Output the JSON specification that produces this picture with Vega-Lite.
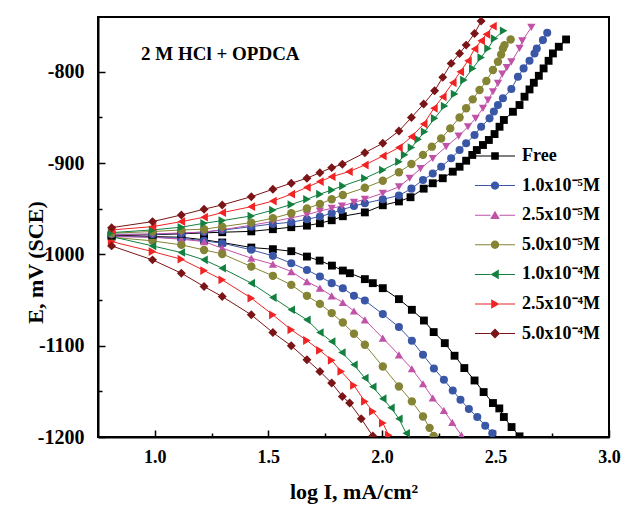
{
"$schema": "https://vega.github.io/schema/vega-lite/v6.json",
"width": 511, "height": 420,
"autosize": "none",
"padding": {"left": 98, "top": 17, "right": 23, "bottom": 72},
"background": "white",
"config": {"view": {"stroke": "black", "strokeWidth": 2}, "font": "Liberation Serif"},
"title": {"text": "2 M HCl + OPDCA", "anchor": "start", "frame": "group", "dx": 43, "dy": 66, "baseline": "alphabetic", "fontSize": 19, "fontWeight": "bold", "font": "Liberation Serif", "color": "black"},
"datasets": {"tafel": [
{"series":"Free","branch":"a","logI":0.81,"E":-979.4},{"series":"Free","branch":"a","logI":0.99,"E":-978.5},{"series":"Free","branch":"a","logI":1.117,"E":-977.5},{"series":"Free","branch":"a","logI":1.217,"E":-976.5},{"series":"Free","branch":"a","logI":1.297,"E":-975.7},{"series":"Free","branch":"a","logI":1.425,"E":-974.8},{"series":"Free","branch":"a","logI":1.52,"E":-972.4},{"series":"Free","branch":"a","logI":1.601,"E":-970.2},{"series":"Free","branch":"a","logI":1.67,"E":-968.5},{"series":"Free","branch":"a","logI":1.727,"E":-965.9},{"series":"Free","branch":"a","logI":1.779,"E":-962.6},{"series":"Free","branch":"a","logI":1.828,"E":-958.2},{"series":"Free","branch":"a","logI":1.925,"E":-954.0},{"series":"Free","branch":"a","logI":2.004,"E":-946.2},{"series":"Free","branch":"a","logI":2.075,"E":-942.0},{"series":"Free","branch":"a","logI":2.126,"E":-937.4},{"series":"Free","branch":"a","logI":2.184,"E":-928.0},{"series":"Free","branch":"a","logI":2.224,"E":-922.1},{"series":"Free","branch":"a","logI":2.268,"E":-916.6},{"series":"Free","branch":"a","logI":2.312,"E":-909.4},{"series":"Free","branch":"a","logI":2.342,"E":-904.0},{"series":"Free","branch":"a","logI":2.371,"E":-897.4},{"series":"Free","branch":"a","logI":2.398,"E":-891.1},{"series":"Free","branch":"a","logI":2.418,"E":-885.7},{"series":"Free","branch":"a","logI":2.445,"E":-880.2},{"series":"Free","branch":"a","logI":2.471,"E":-874.7},{"series":"Free","branch":"a","logI":2.496,"E":-868.2},{"series":"Free","branch":"a","logI":2.518,"E":-860.2},{"series":"Free","branch":"a","logI":2.537,"E":-852.8},{"series":"Free","branch":"a","logI":2.577,"E":-843.8},{"series":"Free","branch":"a","logI":2.606,"E":-836.4},{"series":"Free","branch":"a","logI":2.628,"E":-827.3},{"series":"Free","branch":"a","logI":2.65,"E":-819.3},{"series":"Free","branch":"a","logI":2.669,"E":-812.0},{"series":"Free","branch":"a","logI":2.691,"E":-804.4},{"series":"Free","branch":"a","logI":2.712,"E":-796.3},{"series":"Free","branch":"a","logI":2.734,"E":-788.0},{"series":"Free","branch":"a","logI":2.753,"E":-779.9},{"series":"Free","branch":"a","logI":2.779,"E":-772.6},{"series":"Free","branch":"a","logI":2.811,"E":-764.6},
{"series":"Free","branch":"c","logI":0.81,"E":-979.5},{"series":"Free","branch":"c","logI":0.99,"E":-980.5},{"series":"Free","branch":"c","logI":1.117,"E":-981.2},{"series":"Free","branch":"c","logI":1.217,"E":-984.0},{"series":"Free","branch":"c","logI":1.297,"E":-987.0},{"series":"Free","branch":"c","logI":1.425,"E":-992.5},{"series":"Free","branch":"c","logI":1.52,"E":-994.3},{"series":"Free","branch":"c","logI":1.601,"E":-996.5},{"series":"Free","branch":"c","logI":1.67,"E":-1002.4},{"series":"Free","branch":"c","logI":1.726,"E":-1006.8},{"series":"Free","branch":"c","logI":1.78,"E":-1012.3},{"series":"Free","branch":"c","logI":1.828,"E":-1017.7},{"series":"Free","branch":"c","logI":1.859,"E":-1020.6},{"series":"Free","branch":"c","logI":1.925,"E":-1027.1},{"series":"Free","branch":"c","logI":1.96,"E":-1031.5},{"series":"Free","branch":"c","logI":2.004,"E":-1037.0},{"series":"Free","branch":"c","logI":2.075,"E":-1049.0},{"series":"Free","branch":"c","logI":2.132,"E":-1060.7},{"series":"Free","branch":"c","logI":2.185,"E":-1072.4},{"series":"Free","branch":"c","logI":2.228,"E":-1085.1},{"series":"Free","branch":"c","logI":2.277,"E":-1097.2},{"series":"Free","branch":"c","logI":2.32,"E":-1111.0},{"series":"Free","branch":"c","logI":2.363,"E":-1124.5},{"series":"Free","branch":"c","logI":2.408,"E":-1138.1},{"series":"Free","branch":"c","logI":2.448,"E":-1150.8},{"series":"Free","branch":"c","logI":2.489,"E":-1162.8},{"series":"Free","branch":"c","logI":2.517,"E":-1168.7},{"series":"Free","branch":"c","logI":2.537,"E":-1178.1},{"series":"Free","branch":"c","logI":2.571,"E":-1189.1},{"series":"Free","branch":"c","logI":2.606,"E":-1199.3},
{"series":"1.0x10⁻⁵M","branch":"a","logI":0.81,"E":-977.9},{"series":"1.0x10⁻⁵M","branch":"a","logI":0.99,"E":-978.0},{"series":"1.0x10⁻⁵M","branch":"a","logI":1.117,"E":-977.0},{"series":"1.0x10⁻⁵M","branch":"a","logI":1.217,"E":-975.5},{"series":"1.0x10⁻⁵M","branch":"a","logI":1.297,"E":-973.5},{"series":"1.0x10⁻⁵M","branch":"a","logI":1.425,"E":-969.6},{"series":"1.0x10⁻⁵M","branch":"a","logI":1.52,"E":-966.6},{"series":"1.0x10⁻⁵M","branch":"a","logI":1.601,"E":-964.8},{"series":"1.0x10⁻⁵M","branch":"a","logI":1.67,"E":-961.5},{"series":"1.0x10⁻⁵M","branch":"a","logI":1.727,"E":-958.6},{"series":"1.0x10⁻⁵M","branch":"a","logI":1.779,"E":-955.0},{"series":"1.0x10⁻⁵M","branch":"a","logI":1.821,"E":-951.3},{"series":"1.0x10⁻⁵M","branch":"a","logI":1.877,"E":-947.0},{"series":"1.0x10⁻⁵M","branch":"a","logI":1.925,"E":-944.0},{"series":"1.0x10⁻⁵M","branch":"a","logI":2.004,"E":-939.6},{"series":"1.0x10⁻⁵M","branch":"a","logI":2.075,"E":-935.5},{"series":"1.0x10⁻⁵M","branch":"a","logI":2.13,"E":-928.0},{"series":"1.0x10⁻⁵M","branch":"a","logI":2.181,"E":-918.5},{"series":"1.0x10⁻⁵M","branch":"a","logI":2.224,"E":-911.5},{"series":"1.0x10⁻⁵M","branch":"a","logI":2.261,"E":-904.0},{"series":"1.0x10⁻⁵M","branch":"a","logI":2.305,"E":-894.8},{"series":"1.0x10⁻⁵M","branch":"a","logI":2.342,"E":-885.7},{"series":"1.0x10⁻⁵M","branch":"a","logI":2.371,"E":-878.3},{"series":"1.0x10⁻⁵M","branch":"a","logI":2.408,"E":-869.3},{"series":"1.0x10⁻⁵M","branch":"a","logI":2.437,"E":-860.2},{"series":"1.0x10⁻⁵M","branch":"a","logI":2.474,"E":-851.0},{"series":"1.0x10⁻⁵M","branch":"a","logI":2.493,"E":-843.5},{"series":"1.0x10⁻⁵M","branch":"a","logI":2.511,"E":-836.4},{"series":"1.0x10⁻⁵M","branch":"a","logI":2.533,"E":-829.0},{"series":"1.0x10⁻⁵M","branch":"a","logI":2.57,"E":-818.9},{"series":"1.0x10⁻⁵M","branch":"a","logI":2.599,"E":-805.5},{"series":"1.0x10⁻⁵M","branch":"a","logI":2.624,"E":-796.3},{"series":"1.0x10⁻⁵M","branch":"a","logI":2.65,"E":-788.0},{"series":"1.0x10⁻⁵M","branch":"a","logI":2.672,"E":-779.9},{"series":"1.0x10⁻⁵M","branch":"a","logI":2.682,"E":-774.4},{"series":"1.0x10⁻⁵M","branch":"a","logI":2.709,"E":-765.3},{"series":"1.0x10⁻⁵M","branch":"a","logI":2.728,"E":-757.3},
{"series":"1.0x10⁻⁵M","branch":"c","logI":0.81,"E":-979.8},{"series":"1.0x10⁻⁵M","branch":"c","logI":0.99,"E":-981.2},{"series":"1.0x10⁻⁵M","branch":"c","logI":1.117,"E":-982.3},{"series":"1.0x10⁻⁵M","branch":"c","logI":1.217,"E":-985.2},{"series":"1.0x10⁻⁵M","branch":"c","logI":1.297,"E":-987.7},{"series":"1.0x10⁻⁵M","branch":"c","logI":1.425,"E":-995.0},{"series":"1.0x10⁻⁵M","branch":"c","logI":1.52,"E":-1001.6},{"series":"1.0x10⁻⁵M","branch":"c","logI":1.601,"E":-1009.6},{"series":"1.0x10⁻⁵M","branch":"c","logI":1.67,"E":-1017.0},{"series":"1.0x10⁻⁵M","branch":"c","logI":1.727,"E":-1024.3},{"series":"1.0x10⁻⁵M","branch":"c","logI":1.779,"E":-1031.5},{"series":"1.0x10⁻⁵M","branch":"c","logI":1.828,"E":-1037.0},{"series":"1.0x10⁻⁵M","branch":"c","logI":1.877,"E":-1045.4},{"series":"1.0x10⁻⁵M","branch":"c","logI":1.925,"E":-1050.5},{"series":"1.0x10⁻⁵M","branch":"c","logI":2.004,"E":-1065.4},{"series":"1.0x10⁻⁵M","branch":"c","logI":2.075,"E":-1079.6},{"series":"1.0x10⁻⁵M","branch":"c","logI":2.132,"E":-1094.6},{"series":"1.0x10⁻⁵M","branch":"c","logI":2.181,"E":-1110.0},{"series":"1.0x10⁻⁵M","branch":"c","logI":2.229,"E":-1124.9},{"series":"1.0x10⁻⁵M","branch":"c","logI":2.273,"E":-1137.3},{"series":"1.0x10⁻⁵M","branch":"c","logI":2.312,"E":-1149.0},{"series":"1.0x10⁻⁵M","branch":"c","logI":2.346,"E":-1159.2},{"series":"1.0x10⁻⁵M","branch":"c","logI":2.383,"E":-1169.4},{"series":"1.0x10⁻⁵M","branch":"c","logI":2.42,"E":-1178.1},{"series":"1.0x10⁻⁵M","branch":"c","logI":2.455,"E":-1187.6},{"series":"1.0x10⁻⁵M","branch":"c","logI":2.486,"E":-1196.0},
{"series":"2.5x10⁻⁵M","branch":"a","logI":0.81,"E":-978.7},{"series":"2.5x10⁻⁵M","branch":"a","logI":0.99,"E":-977.6},{"series":"2.5x10⁻⁵M","branch":"a","logI":1.117,"E":-976.5},{"series":"2.5x10⁻⁵M","branch":"a","logI":1.217,"E":-975.5},{"series":"2.5x10⁻⁵M","branch":"a","logI":1.297,"E":-973.0},{"series":"2.5x10⁻⁵M","branch":"a","logI":1.425,"E":-968.0},{"series":"2.5x10⁻⁵M","branch":"a","logI":1.52,"E":-964.0},{"series":"2.5x10⁻⁵M","branch":"a","logI":1.601,"E":-960.0},{"series":"2.5x10⁻⁵M","branch":"a","logI":1.67,"E":-956.5},{"series":"2.5x10⁻⁵M","branch":"a","logI":1.727,"E":-952.5},{"series":"2.5x10⁻⁵M","branch":"a","logI":1.779,"E":-949.5},{"series":"2.5x10⁻⁵M","branch":"a","logI":1.824,"E":-947.0},{"series":"2.5x10⁻⁵M","branch":"a","logI":1.877,"E":-943.0},{"series":"2.5x10⁻⁵M","branch":"a","logI":1.925,"E":-939.6},{"series":"2.5x10⁻⁵M","branch":"a","logI":2.004,"E":-933.0},{"series":"2.5x10⁻⁵M","branch":"a","logI":2.075,"E":-926.0},{"series":"2.5x10⁻⁵M","branch":"a","logI":2.122,"E":-916.6},{"series":"2.5x10⁻⁵M","branch":"a","logI":2.17,"E":-906.0},{"series":"2.5x10⁻⁵M","branch":"a","logI":2.224,"E":-895.0},{"series":"2.5x10⁻⁵M","branch":"a","logI":2.283,"E":-882.0},{"series":"2.5x10⁻⁵M","branch":"a","logI":2.338,"E":-870.4},{"series":"2.5x10⁻⁵M","branch":"a","logI":2.379,"E":-860.2},{"series":"2.5x10⁻⁵M","branch":"a","logI":2.413,"E":-851.0},{"series":"2.5x10⁻⁵M","branch":"a","logI":2.445,"E":-840.0},{"series":"2.5x10⁻⁵M","branch":"a","logI":2.467,"E":-831.0},{"series":"2.5x10⁻⁵M","branch":"a","logI":2.489,"E":-821.9},{"series":"2.5x10⁻⁵M","branch":"a","logI":2.511,"E":-812.7},{"series":"2.5x10⁻⁵M","branch":"a","logI":2.53,"E":-802.5},{"series":"2.5x10⁻⁵M","branch":"a","logI":2.55,"E":-795.5},{"series":"2.5x10⁻⁵M","branch":"a","logI":2.57,"E":-789.1},{"series":"2.5x10⁻⁵M","branch":"a","logI":2.606,"E":-774.4},{"series":"2.5x10⁻⁵M","branch":"a","logI":2.618,"E":-766.1},{"series":"2.5x10⁻⁵M","branch":"a","logI":2.658,"E":-751.4},
{"series":"2.5x10⁻⁵M","branch":"c","logI":0.81,"E":-980.5},{"series":"2.5x10⁻⁵M","branch":"c","logI":0.99,"E":-981.2},{"series":"2.5x10⁻⁵M","branch":"c","logI":1.117,"E":-983.4},{"series":"2.5x10⁻⁵M","branch":"c","logI":1.217,"E":-986.0},{"series":"2.5x10⁻⁵M","branch":"c","logI":1.297,"E":-993.2},{"series":"2.5x10⁻⁵M","branch":"c","logI":1.425,"E":-1004.2},{"series":"2.5x10⁻⁵M","branch":"c","logI":1.52,"E":-1010.7},{"series":"2.5x10⁻⁵M","branch":"c","logI":1.601,"E":-1018.8},{"series":"2.5x10⁻⁵M","branch":"c","logI":1.67,"E":-1029.8},{"series":"2.5x10⁻⁵M","branch":"c","logI":1.727,"E":-1037.0},{"series":"2.5x10⁻⁵M","branch":"c","logI":1.779,"E":-1045.4},{"series":"2.5x10⁻⁵M","branch":"c","logI":1.828,"E":-1052.7},{"series":"2.5x10⁻⁵M","branch":"c","logI":1.877,"E":-1062.0},{"series":"2.5x10⁻⁵M","branch":"c","logI":1.925,"E":-1071.7},{"series":"2.5x10⁻⁵M","branch":"c","logI":2.004,"E":-1091.7},{"series":"2.5x10⁻⁵M","branch":"c","logI":2.075,"E":-1110.0},{"series":"2.5x10⁻⁵M","branch":"c","logI":2.132,"E":-1125.3},{"series":"2.5x10⁻⁵M","branch":"c","logI":2.181,"E":-1141.7},{"series":"2.5x10⁻⁵M","branch":"c","logI":2.224,"E":-1157.3},{"series":"2.5x10⁻⁵M","branch":"c","logI":2.273,"E":-1171.0},{"series":"2.5x10⁻⁵M","branch":"c","logI":2.31,"E":-1184.0},{"series":"2.5x10⁻⁵M","branch":"c","logI":2.35,"E":-1198.0},
{"series":"5.0x10⁻⁵M","branch":"a","logI":0.81,"E":-976.8},{"series":"5.0x10⁻⁵M","branch":"a","logI":0.99,"E":-975.0},{"series":"5.0x10⁻⁵M","branch":"a","logI":1.117,"E":-973.2},{"series":"5.0x10⁻⁵M","branch":"a","logI":1.217,"E":-972.4},{"series":"5.0x10⁻⁵M","branch":"a","logI":1.297,"E":-969.6},{"series":"5.0x10⁻⁵M","branch":"a","logI":1.425,"E":-965.2},{"series":"5.0x10⁻⁵M","branch":"a","logI":1.52,"E":-960.4},{"series":"5.0x10⁻⁵M","branch":"a","logI":1.601,"E":-954.9},{"series":"5.0x10⁻⁵M","branch":"a","logI":1.67,"E":-949.8},{"series":"5.0x10⁻⁵M","branch":"a","logI":1.727,"E":-944.7},{"series":"5.0x10⁻⁵M","branch":"a","logI":1.779,"E":-939.6},{"series":"5.0x10⁻⁵M","branch":"a","logI":1.828,"E":-935.0},{"series":"5.0x10⁻⁵M","branch":"a","logI":1.925,"E":-927.0},{"series":"5.0x10⁻⁵M","branch":"a","logI":2.004,"E":-919.3},{"series":"5.0x10⁻⁵M","branch":"a","logI":2.075,"E":-910.0},{"series":"5.0x10⁻⁵M","branch":"a","logI":2.13,"E":-901.0},{"series":"5.0x10⁻⁵M","branch":"a","logI":2.181,"E":-891.0},{"series":"5.0x10⁻⁵M","branch":"a","logI":2.22,"E":-882.0},{"series":"5.0x10⁻⁵M","branch":"a","logI":2.261,"E":-873.0},{"series":"5.0x10⁻⁵M","branch":"a","logI":2.301,"E":-862.0},{"series":"5.0x10⁻⁵M","branch":"a","logI":2.342,"E":-850.0},{"series":"5.0x10⁻⁵M","branch":"a","logI":2.371,"E":-840.0},{"series":"5.0x10⁻⁵M","branch":"a","logI":2.4,"E":-830.2},{"series":"5.0x10⁻⁵M","branch":"a","logI":2.43,"E":-820.0},{"series":"5.0x10⁻⁵M","branch":"a","logI":2.46,"E":-810.0},{"series":"5.0x10⁻⁵M","branch":"a","logI":2.489,"E":-798.1},{"series":"5.0x10⁻⁵M","branch":"a","logI":2.511,"E":-789.1},{"series":"5.0x10⁻⁵M","branch":"a","logI":2.525,"E":-781.0},{"series":"5.0x10⁻⁵M","branch":"a","logI":2.533,"E":-774.4},{"series":"5.0x10⁻⁵M","branch":"a","logI":2.54,"E":-770.8},{"series":"5.0x10⁻⁵M","branch":"a","logI":2.567,"E":-764.6},
{"series":"5.0x10⁻⁵M","branch":"c","logI":0.81,"E":-981.2},{"series":"5.0x10⁻⁵M","branch":"c","logI":0.99,"E":-985.2},{"series":"5.0x10⁻⁵M","branch":"c","logI":1.117,"E":-989.6},{"series":"5.0x10⁻⁵M","branch":"c","logI":1.217,"E":-995.1},{"series":"5.0x10⁻⁵M","branch":"c","logI":1.297,"E":-999.5},{"series":"5.0x10⁻⁵M","branch":"c","logI":1.425,"E":-1013.3},{"series":"5.0x10⁻⁵M","branch":"c","logI":1.52,"E":-1023.5},{"series":"5.0x10⁻⁵M","branch":"c","logI":1.601,"E":-1033.4},{"series":"5.0x10⁻⁵M","branch":"c","logI":1.67,"E":-1045.4},{"series":"5.0x10⁻⁵M","branch":"c","logI":1.727,"E":-1054.2},{"series":"5.0x10⁻⁵M","branch":"c","logI":1.779,"E":-1064.3},{"series":"5.0x10⁻⁵M","branch":"c","logI":1.828,"E":-1074.6},{"series":"5.0x10⁻⁵M","branch":"c","logI":1.877,"E":-1087.0},{"series":"5.0x10⁻⁵M","branch":"c","logI":1.925,"E":-1099.0},{"series":"5.0x10⁻⁵M","branch":"c","logI":2.004,"E":-1122.8},{"series":"5.0x10⁻⁵M","branch":"c","logI":2.075,"E":-1144.6},{"series":"5.0x10⁻⁵M","branch":"c","logI":2.132,"E":-1161.0},{"series":"5.0x10⁻⁵M","branch":"c","logI":2.181,"E":-1177.5},{"series":"5.0x10⁻⁵M","branch":"c","logI":2.21,"E":-1190.0},{"series":"5.0x10⁻⁵M","branch":"c","logI":2.228,"E":-1199.0},
{"series":"1.0x10⁻⁴M","branch":"a","logI":0.81,"E":-976.1},{"series":"1.0x10⁻⁴M","branch":"a","logI":0.99,"E":-973.2},{"series":"1.0x10⁻⁴M","branch":"a","logI":1.117,"E":-970.2},{"series":"1.0x10⁻⁴M","branch":"a","logI":1.217,"E":-965.9},{"series":"1.0x10⁻⁴M","branch":"a","logI":1.297,"E":-963.0},{"series":"1.0x10⁻⁴M","branch":"a","logI":1.425,"E":-957.9},{"series":"1.0x10⁻⁴M","branch":"a","logI":1.52,"E":-951.5},{"series":"1.0x10⁻⁴M","branch":"a","logI":1.601,"E":-945.3},{"series":"1.0x10⁻⁴M","branch":"a","logI":1.67,"E":-939.6},{"series":"1.0x10⁻⁴M","branch":"a","logI":1.727,"E":-934.0},{"series":"1.0x10⁻⁴M","branch":"a","logI":1.78,"E":-929.4},{"series":"1.0x10⁻⁴M","branch":"a","logI":1.828,"E":-925.0},{"series":"1.0x10⁻⁴M","branch":"a","logI":1.925,"E":-916.6},{"series":"1.0x10⁻⁴M","branch":"a","logI":2.004,"E":-907.5},{"series":"1.0x10⁻⁴M","branch":"a","logI":2.075,"E":-898.5},{"series":"1.0x10⁻⁴M","branch":"a","logI":2.1,"E":-891.0},{"series":"1.0x10⁻⁴M","branch":"a","logI":2.13,"E":-883.0},{"series":"1.0x10⁻⁴M","branch":"a","logI":2.16,"E":-874.0},{"series":"1.0x10⁻⁴M","branch":"a","logI":2.188,"E":-865.6},{"series":"1.0x10⁻⁴M","branch":"a","logI":2.232,"E":-851.0},{"series":"1.0x10⁻⁴M","branch":"a","logI":2.276,"E":-837.5},{"series":"1.0x10⁻⁴M","branch":"a","logI":2.32,"E":-824.4},{"series":"1.0x10⁻⁴M","branch":"a","logI":2.361,"E":-809.1},{"series":"1.0x10⁻⁴M","branch":"a","logI":2.4,"E":-796.3},{"series":"1.0x10⁻⁴M","branch":"a","logI":2.437,"E":-784.3},{"series":"1.0x10⁻⁴M","branch":"a","logI":2.467,"E":-774.4},{"series":"1.0x10⁻⁴M","branch":"a","logI":2.496,"E":-763.5},{"series":"1.0x10⁻⁴M","branch":"a","logI":2.536,"E":-755.0},
{"series":"1.0x10⁻⁴M","branch":"c","logI":0.81,"E":-980.5},{"series":"1.0x10⁻⁴M","branch":"c","logI":0.99,"E":-990.7},{"series":"1.0x10⁻⁴M","branch":"c","logI":1.117,"E":-998.0},{"series":"1.0x10⁻⁴M","branch":"c","logI":1.217,"E":-1006.0},{"series":"1.0x10⁻⁴M","branch":"c","logI":1.297,"E":-1015.1},{"series":"1.0x10⁻⁴M","branch":"c","logI":1.425,"E":-1031.5},{"series":"1.0x10⁻⁴M","branch":"c","logI":1.52,"E":-1047.3},{"series":"1.0x10⁻⁴M","branch":"c","logI":1.601,"E":-1060.7},{"series":"1.0x10⁻⁴M","branch":"c","logI":1.67,"E":-1071.7},{"series":"1.0x10⁻⁴M","branch":"c","logI":1.727,"E":-1085.5},{"series":"1.0x10⁻⁴M","branch":"c","logI":1.779,"E":-1095.4},{"series":"1.0x10⁻⁴M","branch":"c","logI":1.824,"E":-1107.4},{"series":"1.0x10⁻⁴M","branch":"c","logI":1.877,"E":-1120.9},{"series":"1.0x10⁻⁴M","branch":"c","logI":1.925,"E":-1135.4},{"series":"1.0x10⁻⁴M","branch":"c","logI":1.96,"E":-1145.0},{"series":"1.0x10⁻⁴M","branch":"c","logI":2.004,"E":-1158.0},{"series":"1.0x10⁻⁴M","branch":"c","logI":2.04,"E":-1168.0},{"series":"1.0x10⁻⁴M","branch":"c","logI":2.075,"E":-1180.0},{"series":"1.0x10⁻⁴M","branch":"c","logI":2.107,"E":-1196.0},
{"series":"2.5x10⁻⁴M","branch":"a","logI":0.81,"E":-973.2},{"series":"2.5x10⁻⁴M","branch":"a","logI":0.99,"E":-969.6},{"series":"2.5x10⁻⁴M","branch":"a","logI":1.117,"E":-964.1},{"series":"2.5x10⁻⁴M","branch":"a","logI":1.217,"E":-959.3},{"series":"2.5x10⁻⁴M","branch":"a","logI":1.297,"E":-954.3},{"series":"2.5x10⁻⁴M","branch":"a","logI":1.425,"E":-947.7},{"series":"2.5x10⁻⁴M","branch":"a","logI":1.52,"E":-941.6},{"series":"2.5x10⁻⁴M","branch":"a","logI":1.601,"E":-934.0},{"series":"2.5x10⁻⁴M","branch":"a","logI":1.67,"E":-926.5},{"series":"2.5x10⁻⁴M","branch":"a","logI":1.727,"E":-920.3},{"series":"2.5x10⁻⁴M","branch":"a","logI":1.779,"E":-914.9},{"series":"2.5x10⁻⁴M","branch":"a","logI":1.855,"E":-909.4},{"series":"2.5x10⁻⁴M","branch":"a","logI":1.925,"E":-902.1},{"series":"2.5x10⁻⁴M","branch":"a","logI":2.004,"E":-892.2},{"series":"2.5x10⁻⁴M","branch":"a","logI":2.075,"E":-883.0},{"series":"2.5x10⁻⁴M","branch":"a","logI":2.13,"E":-871.1},{"series":"2.5x10⁻⁴M","branch":"a","logI":2.184,"E":-857.2},{"series":"2.5x10⁻⁴M","branch":"a","logI":2.229,"E":-840.0},{"series":"2.5x10⁻⁴M","branch":"a","logI":2.268,"E":-827.4},{"series":"2.5x10⁻⁴M","branch":"a","logI":2.312,"E":-812.0},{"series":"2.5x10⁻⁴M","branch":"a","logI":2.345,"E":-800.0},{"series":"2.5x10⁻⁴M","branch":"a","logI":2.379,"E":-788.0},{"series":"2.5x10⁻⁴M","branch":"a","logI":2.408,"E":-775.0},{"series":"2.5x10⁻⁴M","branch":"a","logI":2.437,"E":-766.0},{"series":"2.5x10⁻⁴M","branch":"a","logI":2.46,"E":-759.0},{"series":"2.5x10⁻⁴M","branch":"a","logI":2.489,"E":-750.0},
{"series":"2.5x10⁻⁴M","branch":"c","logI":0.81,"E":-986.0},{"series":"2.5x10⁻⁴M","branch":"c","logI":0.99,"E":-996.9},{"series":"2.5x10⁻⁴M","branch":"c","logI":1.117,"E":-1005.3},{"series":"2.5x10⁻⁴M","branch":"c","logI":1.217,"E":-1017.7},{"series":"2.5x10⁻⁴M","branch":"c","logI":1.297,"E":-1027.9},{"series":"2.5x10⁻⁴M","branch":"c","logI":1.425,"E":-1047.9},{"series":"2.5x10⁻⁴M","branch":"c","logI":1.52,"E":-1066.2},{"series":"2.5x10⁻⁴M","branch":"c","logI":1.601,"E":-1082.6},{"series":"2.5x10⁻⁴M","branch":"c","logI":1.67,"E":-1094.3},{"series":"2.5x10⁻⁴M","branch":"c","logI":1.727,"E":-1105.2},{"series":"2.5x10⁻⁴M","branch":"c","logI":1.779,"E":-1116.0},{"series":"2.5x10⁻⁴M","branch":"c","logI":1.821,"E":-1128.2},{"series":"2.5x10⁻⁴M","branch":"c","logI":1.877,"E":-1143.5},{"series":"2.5x10⁻⁴M","branch":"c","logI":1.925,"E":-1161.0},{"series":"2.5x10⁻⁴M","branch":"c","logI":1.96,"E":-1172.0},{"series":"2.5x10⁻⁴M","branch":"c","logI":2.004,"E":-1184.7},{"series":"2.5x10⁻⁴M","branch":"c","logI":2.03,"E":-1198.0},
{"series":"5.0x10⁻⁴M","branch":"a","logI":0.81,"E":-970.7},{"series":"5.0x10⁻⁴M","branch":"a","logI":0.99,"E":-964.1},{"series":"5.0x10⁻⁴M","branch":"a","logI":1.117,"E":-956.8},{"series":"5.0x10⁻⁴M","branch":"a","logI":1.217,"E":-950.5},{"series":"5.0x10⁻⁴M","branch":"a","logI":1.297,"E":-945.8},{"series":"5.0x10⁻⁴M","branch":"a","logI":1.425,"E":-936.8},{"series":"5.0x10⁻⁴M","branch":"a","logI":1.52,"E":-928.7},{"series":"5.0x10⁻⁴M","branch":"a","logI":1.601,"E":-922.0},{"series":"5.0x10⁻⁴M","branch":"a","logI":1.67,"E":-916.6},{"series":"5.0x10⁻⁴M","branch":"a","logI":1.727,"E":-910.5},{"series":"5.0x10⁻⁴M","branch":"a","logI":1.779,"E":-905.0},{"series":"5.0x10⁻⁴M","branch":"a","logI":1.826,"E":-901.3},{"series":"5.0x10⁻⁴M","branch":"a","logI":1.925,"E":-888.6},{"series":"5.0x10⁻⁴M","branch":"a","logI":2.004,"E":-878.3},{"series":"5.0x10⁻⁴M","branch":"a","logI":2.075,"E":-864.9},{"series":"5.0x10⁻⁴M","branch":"a","logI":2.13,"E":-850.0},{"series":"5.0x10⁻⁴M","branch":"a","logI":2.184,"E":-835.3},{"series":"5.0x10⁻⁴M","branch":"a","logI":2.232,"E":-820.8},{"series":"5.0x10⁻⁴M","branch":"a","logI":2.268,"E":-806.1},{"series":"5.0x10⁻⁴M","branch":"a","logI":2.305,"E":-790.8},{"series":"5.0x10⁻⁴M","branch":"a","logI":2.342,"E":-779.9},{"series":"5.0x10⁻⁴M","branch":"a","logI":2.371,"E":-770.8},{"series":"5.0x10⁻⁴M","branch":"a","logI":2.408,"E":-758.0},{"series":"5.0x10⁻⁴M","branch":"a","logI":2.437,"E":-744.5},
{"series":"5.0x10⁻⁴M","branch":"c","logI":0.81,"E":-990.7},{"series":"5.0x10⁻⁴M","branch":"c","logI":0.99,"E":-1006.0},{"series":"5.0x10⁻⁴M","branch":"c","logI":1.117,"E":-1020.6},{"series":"5.0x10⁻⁴M","branch":"c","logI":1.217,"E":-1035.2},{"series":"5.0x10⁻⁴M","branch":"c","logI":1.297,"E":-1046.2},{"series":"5.0x10⁻⁴M","branch":"c","logI":1.425,"E":-1066.2},{"series":"5.0x10⁻⁴M","branch":"c","logI":1.52,"E":-1085.6},{"series":"5.0x10⁻⁴M","branch":"c","logI":1.601,"E":-1100.1},{"series":"5.0x10⁻⁴M","branch":"c","logI":1.67,"E":-1115.4},{"series":"5.0x10⁻⁴M","branch":"c","logI":1.727,"E":-1128.2},{"series":"5.0x10⁻⁴M","branch":"c","logI":1.779,"E":-1140.9},{"series":"5.0x10⁻⁴M","branch":"c","logI":1.826,"E":-1155.6},{"series":"5.0x10⁻⁴M","branch":"c","logI":1.858,"E":-1162.8},{"series":"5.0x10⁻⁴M","branch":"c","logI":1.909,"E":-1180.0},{"series":"5.0x10⁻⁴M","branch":"c","logI":1.96,"E":-1199.0}
]},
"data": {"name": "tafel"},
"layer": [
{"mark": {"type": "line", "strokeWidth": 1, "clip": true},
 "encoding": {
  "x": {"field": "logI", "type": "quantitative", "scale": {"domain": [0.75, 3], "nice": false, "zero": false},
        "axis": {"orient": "bottom", "values": [1, 1.5, 2, 2.5, 3], "format": ".1f", "grid": false, "tickSize": -7, "tickWidth": 1.5, "tickColor": "black", "domainColor": "black", "domainWidth": 2, "labelFlush": false, "labelOverlap": false, "labelFont": "Liberation Serif", "labelFontSize": 18, "labelFontWeight": "bold", "labelColor": "black", "labelPadding": 18, "title": "log I, mA/cm²", "titleFont": "Liberation Serif", "titleFontSize": 22, "titleFontWeight": "bold", "titleColor": "black", "titlePadding": 15}},
  "y": {"field": "E", "type": "quantitative", "scale": {"domain": [-1200, -740], "nice": false, "zero": false},
        "axis": {"orient": "left", "values": [-1200, -1100, -1000, -900, -800], "labelExpr": "'' + datum.value", "grid": false, "tickSize": -7, "tickWidth": 1.5, "tickColor": "black", "domainColor": "black", "domainWidth": 2, "labelFlush": false, "labelOverlap": false, "labelFont": "Liberation Serif", "labelFontSize": 20, "labelFontWeight": "bold", "labelColor": "black", "labelPadding": 21, "title": "E, mV (SCE)", "titleFont": "Liberation Serif", "titleFontSize": 22, "titleFontWeight": "bold", "titleColor": "black", "titleY": 245, "titleX": -51}},
  "color": {"field": "series", "type": "nominal", "scale": {"domain": ["Free","1.0x10⁻⁵M","2.5x10⁻⁵M","5.0x10⁻⁵M","1.0x10⁻⁴M","2.5x10⁻⁴M","5.0x10⁻⁴M"], "range": ["#000000","#3a56a6","#c052a8","#848434","#148040","#f02424","#7a1416"]}, "legend": null},
  "detail": {"field": "branch"}
 }},
{"transform": [{"filter": "datum.branch === 'c'"}],
 "mark": {"type": "point", "filled": true, "opacity": 1, "clip": true},
 "encoding": {
  "x": {"field": "logI", "type": "quantitative", "axis": {"orient": "bottom", "values": [1.25, 1.75, 2.25, 2.75], "labels": false, "domain": false, "grid": false, "tickSize": -4, "tickWidth": 1.5, "tickColor": "black", "title": null}},
  "y": {"field": "E", "type": "quantitative", "axis": {"orient": "left", "values": [-1150, -1050, -950, -850], "labels": false, "domain": false, "grid": false, "tickSize": -4, "tickWidth": 1.5, "tickColor": "black", "title": null}},
  "color": {"field": "series", "type": "nominal", "scale": {"domain": ["Free","1.0x10⁻⁵M","2.5x10⁻⁵M","5.0x10⁻⁵M","1.0x10⁻⁴M","2.5x10⁻⁴M","5.0x10⁻⁴M"], "range": ["#000000","#3a56a6","#c052a8","#848434","#148040","#f02424","#7a1416"]}, "legend": null},
  "shape": {"field": "series", "type": "nominal", "scale": {"domain": ["Free","1.0x10⁻⁵M","2.5x10⁻⁵M","5.0x10⁻⁵M","1.0x10⁻⁴M","2.5x10⁻⁴M","5.0x10⁻⁴M"], "range": ["square","circle","triangle-up","circle","triangle-left","triangle-right","diamond"]}, "legend": null},
  "size": {"field": "series", "type": "nominal", "scale": {"domain": ["Free","1.0x10⁻⁵M","2.5x10⁻⁵M","5.0x10⁻⁵M","1.0x10⁻⁴M","2.5x10⁻⁴M","5.0x10⁻⁴M"], "range": [62, 80, 110, 80, 110, 110, 100]}, "legend": null}
 }},
{"transform": [{"filter": "datum.branch === 'a'"}],
 "mark": {"type": "point", "filled": true, "opacity": 1, "clip": true},
 "encoding": {
  "x": {"field": "logI", "type": "quantitative", "axis": null},
  "y": {"field": "E", "type": "quantitative", "axis": null},
  "color": {"field": "series", "type": "nominal", "scale": {"domain": ["Free","1.0x10⁻⁵M","2.5x10⁻⁵M","5.0x10⁻⁵M","1.0x10⁻⁴M","2.5x10⁻⁴M","5.0x10⁻⁴M"], "range": ["#000000","#3a56a6","#c052a8","#848434","#148040","#f02424","#7a1416"]}, "legend": null},
  "shape": {"field": "series", "type": "nominal", "scale": {"domain": ["Free","1.0x10⁻⁵M","2.5x10⁻⁵M","5.0x10⁻⁵M","1.0x10⁻⁴M","2.5x10⁻⁴M","5.0x10⁻⁴M"], "range": ["square","circle","triangle-down","circle","triangle-right","triangle-left","diamond"]}, "legend": null},
  "size": {"field": "series", "type": "nominal", "scale": {"domain": ["Free","1.0x10⁻⁵M","2.5x10⁻⁵M","5.0x10⁻⁵M","1.0x10⁻⁴M","2.5x10⁻⁴M","5.0x10⁻⁴M"], "range": [62, 80, 110, 80, 110, 110, 100]}, "legend": null}
 }},
{"transform": [{"filter": "datum.branch === 'c'"}],
 "mark": {"type": "point", "filled": true, "opacity": 0, "clip": true},
 "encoding": {
  "x": {"field": "logI", "type": "quantitative", "axis": null},
  "y": {"field": "E", "type": "quantitative", "axis": null},
  "color": {"field": "series", "type": "nominal", "scale": {"domain": ["Free","1.0x10⁻⁵M","2.5x10⁻⁵M","5.0x10⁻⁵M","1.0x10⁻⁴M","2.5x10⁻⁴M","5.0x10⁻⁴M"], "range": ["#000000","#3a56a6","#c052a8","#848434","#148040","#f02424","#7a1416"]},
            "legend": {"orient": "none", "legendX": 387, "legendY": 129, "title": null, "padding": 0, "symbolSize": 400, "symbolStrokeWidth": 0, "symbolOpacity": 1, "labelFont": "Liberation Serif", "labelFontSize": 18, "labelFontWeight": "bold", "labelColor": "black", "labelOffset": 17, "rowPadding": 10.6, "labelLimit": 300}},
  "shape": {"field": "series", "type": "nominal", "scale": {"domain": ["Free","1.0x10⁻⁵M","2.5x10⁻⁵M","5.0x10⁻⁵M","1.0x10⁻⁴M","2.5x10⁻⁴M","5.0x10⁻⁴M"], "range": [
     "M-2,-0.05H-0.38V0.05H-2Z M0.38,-0.05H2V0.05H0.38Z M-0.38,-0.38H0.38V0.38H-0.38Z",
     "M-2,-0.05H-0.42V0.05H-2Z M0.42,-0.05H2V0.05H0.42Z M-0.42,0A0.42,0.42 0 1,0 0.42,0A0.42,0.42 0 1,0 -0.42,0Z",
     "M-2,-0.05H-0.45V0.05H-2Z M0.45,-0.05H2V0.05H0.45Z M0,-0.45L0.48,0.38H-0.48Z",
     "M-2,-0.05H-0.42V0.05H-2Z M0.42,-0.05H2V0.05H0.42Z M-0.42,0A0.42,0.42 0 1,0 0.42,0A0.42,0.42 0 1,0 -0.42,0Z",
     "M-2,-0.05H-0.45V0.05H-2Z M0.38,-0.05H2V0.05H0.38Z M-0.45,0L0.38,-0.48V0.48Z",
     "M-2,-0.05H-0.38V0.05H-2Z M0.45,-0.05H2V0.05H0.45Z M0.45,0L-0.38,-0.48V0.48Z",
     "M-2,-0.05H-0.5V0.05H-2Z M0.5,-0.05H2V0.05H0.5Z M0,-0.5L0.5,0L0,0.5L-0.5,0Z"]},
            "legend": {"orient": "none", "legendX": 387, "legendY": 129, "title": null, "padding": 0, "symbolSize": 400, "symbolStrokeWidth": 0, "symbolOpacity": 1, "labelFont": "Liberation Serif", "labelFontSize": 18, "labelFontWeight": "bold", "labelColor": "black", "labelOffset": 17, "rowPadding": 10.6, "labelLimit": 300}}
 }}
],
"resolve": {"scale": {"color": "independent", "shape": "independent", "size": "independent"}, "axis": {"x": "independent", "y": "independent"}}
}
